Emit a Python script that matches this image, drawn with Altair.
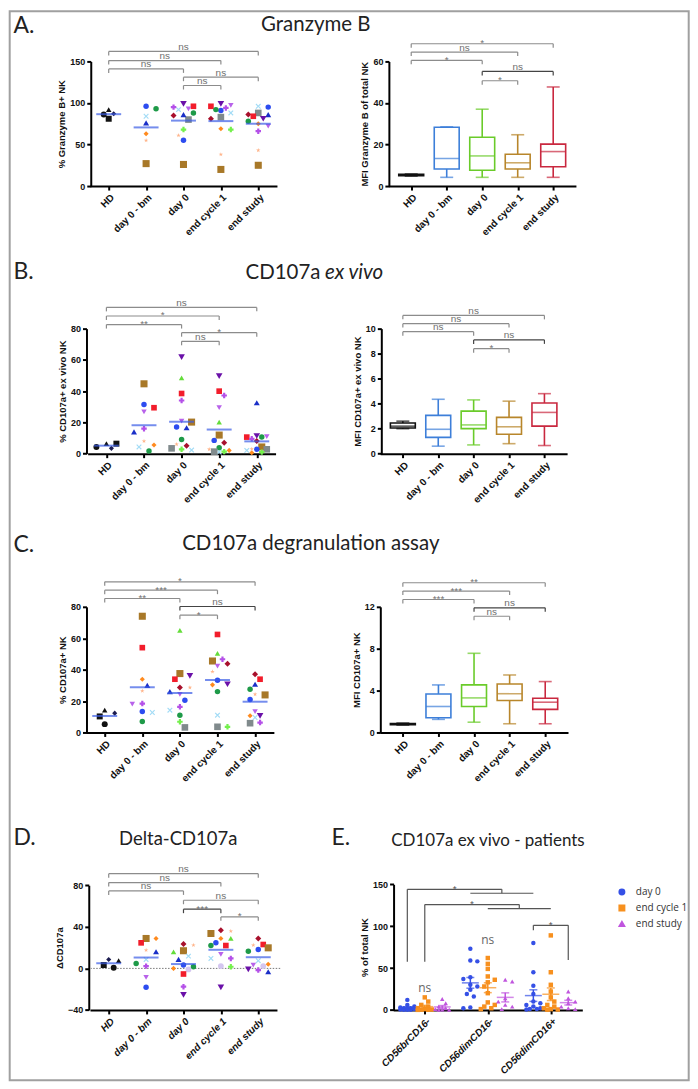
import altair as alt
import pandas as pd

# ---------------------------------------------------------------- categories
CATS = ["HD", "day 0 - bm", "day 0", "end cycle 1", "end study"]
BOX_COLORS = ["#111111", "#3d7fd9", "#6acb2a", "#b8862b", "#c9283f"]
MEAN_BLUE = "#3a5de6"

STAR = "M0,-1L0.22,-0.3L0.95,-0.31L0.36,0.12L0.59,0.81L0,0.38L-0.59,0.81L-0.36,0.12L-0.95,-0.31L-0.22,-0.3Z"
XSHAPE = "M-1,-0.7L-0.7,-1L0,-0.3L0.7,-1L1,-0.7L0.3,0L1,0.7L0.7,1L0,0.3L-0.7,1L-1,0.7L-0.3,0Z"

DONORS = ["H1", "H2", "H3", "H4", "P1", "P2", "P3", "P4", "P5", "P6",
          "P7", "P8", "P9", "P10", "P11", "P12", "P13", "P14", "P15", "P16"]
DONOR_COLORS = ["#111111", "#111111", "#111111", "#1c1c50", "#2c4cf0", "#1a2fc8",
                "#f21d2b", "#a87828", "#808a8c", "#1e9a48", "#64dd3a", "#74f04c",
                "#6a10a8", "#b450e8", "#b862ea", "#ff8a1e", "#ffb48a", "#a3dcf6",
                "#a8102c", "#d4c6f0"]
DONOR_SHAPES = ["triangle-up", "square", "circle", "diamond", "circle", "triangle-up",
                "square", "square", "square", "circle", "triangle-up", "cross",
                "triangle-down", "cross", "triangle-down", "diamond", STAR, XSHAPE,
                "diamond", "circle"]
DONOR_SIZES = [30, 36, 36, 26, 30, 36, 32, 50, 44, 30, 30, 30, 44, 30, 30, 26, 22, 30, 36, 34]

# ---------------------------------------------------------------- panel A
GZB_PCT = {
    "HD": {"H1": 92, "H2": 81, "H3": 86, "H4": 87},
    "day 0 - bm": {"P1": 96, "P6": 93, "P2": 76, "P14": 84, "P12": 63, "P13": 55, "P4": 27},
    "day 0": {"P3": 96, "P9": 99, "P11": 93, "P14": 92, "P6": 88, "P15": 85, "P5": 80,
              "P8": 68, "P13": 61, "P1": 55, "P4": 26, "P10": 95, "P2": 86},
    "end cycle 1": {"P9": 99, "P3": 96, "P10": 94, "P1": 91, "P6": 92, "P11": 97, "P14": 88,
                    "P5": 83, "P15": 81, "P8": 68, "P12": 69, "P13": 38, "P4": 20},
    "end study": {"P5": 88, "P14": 96, "P1": 95, "P15": 86, "P2": 86, "P3": 84, "P9": 81,
                  "P6": 78, "P12": 75, "P10": 66, "P11": 72, "P13": 43, "P4": 25},
}
GZB_PCT_BR = [(0, 4, 162, "ns"), (0, 3, 151, "ns"), (0, 2, 141, "ns"), (2, 4, 131, "ns"), (2, 3, 121, "ns")]

GZB_MFI_MIN = [4.8, 4.2, 4.2, 4.2, 4.2]
GZB_MFI_Q1 = [5.0, 8.2, 7.6, 8.2, 9.3]
GZB_MFI_MED = [5.3, 13.3, 14.5, 11.2, 16.6]
GZB_MFI_Q3 = [5.6, 28.3, 23.5, 15.3, 20.2]
GZB_MFI_MAX = [5.8, 28.5, 37.0, 24.7, 47.7]
GZB_MFI_BR = [(0, 4, 68.5, "*"), (0, 3, 64.5, "ns"), (0, 2, 60.5, "*"), (2, 4, 55.2, "ns"), (2, 3, 50.7, "*")]

# ---------------------------------------------------------------- panel B
EXV_PCT = {
    "HD": {"H1": 6.4, "H2": 6.4, "H3": 4.3, "H4": 3.4},
    "day 0 - bm": {"P4": 44.7, "P3": 29.4, "P1": 31.5, "P11": 26.8, "P10": 16, "P2": 14,
                   "P12": 5.5, "P13": 8, "P14": 4.3, "P6": 1.7},
    "day 0": {"P9": 61.7, "P7": 48.5, "P3": 38.5, "P10": 34, "P4": 20.2, "P11": 20.8, "P1": 17,
              "P2": 16.6, "P6": 9.1, "P15": 5.1, "P5": 3.4, "P13": 6, "P8": 2.8, "P14": 2.3},
    "end cycle 1": {"P9": 49.6, "P3": 40, "P10": 37.2, "P11": 29.4, "P7": 20.2, "P4": 11.9,
                    "P1": 8.5, "P15": 7, "P6": 3.8, "P12": 2.1, "P14": 1, "P13": 2.8, "P5": 1.3, "P8": 1.3},
    "end study": {"P2": 32.6, "P11": 10.9, "P3": 10.6, "P6": 10.6, "P10": 9.5, "P15": 8.1, "P4": 4.3,
                  "P5": 2.8, "P1": 2.8, "P12": 0.6, "P14": 2.1, "P9": 11.3, "P13": 3, "P8": 1},
}
EXV_PCT_BR = [(0, 4, 93.6, "ns"), (0, 3, 88.1, "*"), (0, 2, 82.6, "**"), (2, 4, 77.4, "*"), (2, 3, 71.9, "ns")]

EXV_MFI_MIN = [2.0, 0.6, 0.7, 0.8, 0.65]
EXV_MFI_Q1 = [2.05, 1.3, 2.0, 1.55, 2.2]
EXV_MFI_MED = [2.2, 1.95, 2.3, 2.15, 3.3]
EXV_MFI_Q3 = [2.45, 3.06, 3.4, 2.9, 4.05]
EXV_MFI_MAX = [2.6, 4.35, 4.3, 4.2, 4.8]
EXV_MFI_BR = [(0, 4, 11.06, "ns"), (0, 3, 10.4, "ns"), (0, 2, 9.76, "ns"), (2, 4, 9.1, "ns"), (2, 3, 8.4, "*")]

# ---------------------------------------------------------------- panel C
DEG_PCT = {
    "HD": {"H4": 12.3, "H2": 10.2, "H3": 5.3, "H1": 14.2},
    "day 0 - bm": {"P4": 74, "P3": 54, "P12": 33.9, "P2": 30, "P13": 26.5, "P10": 18.4,
                   "P11": 18, "P1": 13.3, "P14": 12.7, "P6": 7},
    "day 0": {"P7": 65, "P4": 37.5, "P3": 33.9, "P9": 36, "P15": 28.6, "P13": 28.6, "P2": 26,
              "P11": 24.3, "P1": 20.5, "P10": 16.3, "P14": 14.2, "P6": 11, "P8": 6.8, "P5": 3.2},
    "end cycle 1": {"P3": 62.4, "P7": 50.4, "P4": 45.5, "P10": 46.6, "P15": 43.8, "P11": 42.3,
                    "P13": 38.7, "P1": 33.2, "P9": 30.7, "P12": 30.3, "P6": 26, "P14": 11,
                    "P5": 3.6, "P8": 3.6},
    "end study": {"P15": 37, "P3": 33.9, "P2": 30.7, "P6": 27.5, "P13": 24.3, "P4": 23.9, "P1": 21,
                  "P11": 13.3, "P9": 10.6, "P12": 10.6, "P14": 9.5, "P10": 6.3, "P5": 5.9},
}
DEG_PCT_BR = [(0, 4, 95.9, "*"), (0, 3, 90.6, "***"), (0, 2, 85.3, "**"), (2, 4, 80.2, "ns"), (2, 3, 74.7, "*")]

DEG_MFI_MIN = [0.7, 1.25, 0.98, 0.83, 0.83]
DEG_MFI_Q1 = [0.75, 1.4, 2.48, 3.05, 2.2]
DEG_MFI_MED = [0.8, 2.48, 3.3, 3.7, 2.89]
DEG_MFI_Q3 = [0.85, 3.68, 4.54, 4.63, 3.27]
DEG_MFI_MAX = [0.9, 4.54, 7.56, 5.49, 4.86]
DEG_MFI_BR = [(0, 4, 14.3, "**"), (0, 3, 13.5, "***"), (0, 2, 12.7, "***"), (2, 4, 11.9, "ns"), (2, 3, 11.1, "ns")]

# ---------------------------------------------------------------- panel D
DELTA = {
    "HD": {"H1": 7.4, "H4": 8.6, "H3": 0.6, "H2": 3.2},
    "day 0 - bm": {"P4": 28.8, "P12": 28.8, "P3": 24.6, "P13": 17.6, "P2": 16, "P14": 8.6,
                   "P6": 4.8, "P10": 2.2, "P11": -8.6, "P1": -18.2},
    "day 0": {"P15": 23.4, "P13": 22.4, "P4": 17, "P7": 16, "P14": 11.8, "P2": 8.6, "P1": 3.2,
              "P6": 1.6, "P12": 0, "P16": -1, "P3": -5.4, "P10": -17.6, "P9": -25.6},
    "end cycle 1": {"P13": 35.8, "P15": 36.8, "P4": 33.6, "P12": 28.8, "P7": 28.8, "P1": 24.6,
                    "P3": 22, "P6": 22, "P11": 13.4, "P10": 9.6, "P14": 9.6, "P16": 2.2,
                    "P8": 1.6, "P9": -18.2},
    "end study": {"P15": 28.8, "P13": 22.4, "P3": 23, "P4": 19.8, "P6": 16.6, "P1": 18.2,
                  "P14": 7.4, "P16": 2.2, "P11": 3.2, "P9": -1, "P10": -1.6, "P2": -3.2, "P12": 4},
}
DELTA_BR = [(0, 4, 91.2, "ns"), (0, 3, 82.6, "ns"), (0, 2, 74.6, "ns"), (2, 4, 65.6, "ns"),
            (2, 3, 57.0, "***"), (3, 4, 49.6, "*")]

# ---------------------------------------------------------------- panel E
E_GROUPS = ["CD56brCD16-", "CD56dimCD16-", "CD56dimCD16+"]
E_SERIES = ["day 0", "end cycle 1", "end study"]
E_COLORS = ["#3550e6", "#f7901e", "#c055de"]
E_SHAPES = ["circle", "square", "triangle-up"]
E_DAY0 = [[12, 6, 4, 3, 2, 2, 1, 1, 0.5, 0.3, 0.2, 0.1],
          [73, 59, 58, 39, 37, 30, 28, 24, 19, 16, 3, 2],
          [80, 45, 29, 19, 10, 8, 6, 4, 2, 1, 1, 0.5]]
E_EC1 = [[15, 10, 6, 4, 2, 1, 0.5, 0.3, 0.2, 0.1],
         [62, 55, 49, 40, 36, 33, 28, 20, 9, 6, 4, 2, 1],
         [89, 45, 30, 22, 15, 10, 6, 4, 2, 1, 0.5, 0.3]]
E_ES = [[13, 8, 4, 2, 1, 0.5, 0.2, 0.1],
        [36, 34, 14, 10, 6, 4, 1],
        [22, 14, 10, 8, 4, 2, 1]]
E_SERIES_SHIFT = 0.277  # series spacing inside a group, in group units

# ---------------------------------------------------------------- styles
GRAY = "#8c8c8c"
DARK = "#444444"
TFONT = "Lato"
AFONT = "Liberation Sans"
LABEL_EXPR = "[" + ",".join("'%s'" % c for c in CATS) + "][datum.value]"
E_LABEL_EXPR = "[" + ",".join("'%s'" % c for c in E_GROUPS) + "][datum.value]"
W = 190
STEP = 37.6


def swarm(vals, ppu, d=6.5, step=5.0, maxk=2):
    order = sorted(range(len(vals)), key=lambda i: -vals[i])
    placed, out, flip = [], [0.0] * len(vals), 1
    for i in order:
        y = vals[i] * ppu
        cands = [0.0]
        for k in range(1, maxk + 1):
            cands += [flip * k * step, -flip * k * step]
        best, bestd = 0.0, -1
        for c in cands:
            md = min([((c - px) ** 2 + (y - py) ** 2) for px, py in placed] or [1e9])
            if md >= d * d:
                best = c
                break
            if md > bestd:
                best, bestd = c, md
        placed.append((best, y))
        out[i] = best
        if best != 0:
            flip = -flip
    return out


def scales(xr, yr, ydom, xdom=(-0.5, 4.5)):
    xs = alt.Scale(domain=list(xdom), range=xr, nice=False, zero=False)
    ys = alt.Scale(domain=ydom, range=yr, nice=False, zero=False)
    return xs, ys


def bracket_layers(brs, dark, t, X, Y):
    segs, labs = [], []
    for k, (a, b, y, lab) in enumerate(brs):
        col = DARK if k in dark else GRAY
        segs += [dict(xa=a, xb=b, ya=y, yb=y, col=col),
                 dict(xa=a, xb=a, ya=y, yb=y - t, col=col),
                 dict(xa=b, xb=b, ya=y, yb=y - t, col=col)]
        labs.append(dict(xm=(a + b) / 2, y=y, lab=lab, star=(lab != "ns")))
    sdf, ldf = pd.DataFrame(segs), pd.DataFrame(labs)
    rules = alt.Chart(sdf).mark_rule(strokeWidth=1.2).encode(
        x=X("xa:Q"), x2="xb:Q", y=Y("ya:Q"), y2="yb:Q",
        stroke=alt.Stroke("col:N", scale=None))
    ns = alt.Chart(ldf[~ldf.star]).mark_text(font=AFONT, fontSize=10, color="#707070",
                                             baseline="alphabetic", dy=-1.5).encode(
        x=X("xm:Q"), y=Y("y:Q"), text="lab:N")
    st = alt.Chart(ldf[ldf.star]).mark_text(font=AFONT, fontSize=10, color="#707070",
                                            baseline="alphabetic", dy=2.5).encode(
        x=X("xm:Q"), y=Y("y:Q"), text="lab:N")
    return [rules, ns, st]


def texts(items):
    out = []
    for s, x, y, size, align, style in items:
        out.append(alt.Chart(pd.DataFrame({"t": [s]})).mark_text(
            font=TFONT, fontSize=size, align=align, baseline="alphabetic",
            fontStyle=style, color="#222222").encode(
            x=alt.value(x), y=alt.value(y), text="t:N"))
    return out


def make_axes(ytitle, yticks, yoff, italic):
    xax = alt.Axis(values=[0, 1, 2, 3, 4], labelExpr=LABEL_EXPR, title=None, labelAngle=-45,
                   labelOverlap=False, labelFlush=False, labelFontSize=10,
                   labelFontStyle="italic" if italic else "normal")
    yax = alt.Axis(values=yticks, title=ytitle, offset=yoff)
    return xax, yax


def scatter_panel(vals, brs, dark, ytitle, ydom, yticks, ppu, xr, yr, H, yoff,
                  italic=False, zero=False, extra=()):
    rows = []
    for ci, cat in enumerate(CATS):
        d = vals[cat]
        names, vs = list(d.keys()), list(d.values())
        offs = swarm(vs, ppu)
        for n, v, o in zip(names, vs, offs):
            rows.append(dict(idx=ci, pos=ci + o / STEP, donor=n, value=v,
                             sz=DONOR_SIZES[DONORS.index(n)]))
    df = pd.DataFrame(rows)
    xs, ys = scales(xr, yr, ydom)
    xax, yax = make_axes(ytitle, yticks, yoff, italic)

    def X(f):
        return alt.X(f, scale=xs, axis=xax)

    def Y(f):
        return alt.Y(f, scale=ys, axis=yax)

    layers = list(extra)
    if zero:
        layers.append(alt.Chart(pd.DataFrame({"z": [0]})).mark_rule(
            strokeDash=[1.5, 1.5], color="#777777", strokeWidth=1).encode(y=Y("z:Q")))
    layers += bracket_layers(brs, dark, 4.0 / ppu, X, Y)
    pts = alt.Chart(df).mark_point(filled=True, opacity=1).encode(
        x=X("pos:Q"), y=Y("value:Q"),
        color=alt.Color("donor:N", scale=alt.Scale(domain=DONORS, range=DONOR_COLORS), legend=None),
        shape=alt.Shape("donor:N", scale=alt.Scale(domain=DONORS, range=DONOR_SHAPES), legend=None),
        size=alt.Size("sz:Q", scale=None, legend=None))
    mean = alt.Chart(df).transform_aggregate(m="mean(value)", groupby=["idx"]).mark_tick(
        orient="horizontal", size=25, thickness=2, color=MEAN_BLUE).encode(x=X("idx:Q"), y=Y("m:Q"))
    layers += [pts, mean]
    return alt.layer(*layers).properties(width=W, height=H)


def box_panel(mins, q1, med, q3, mx, brs, dark, ytitle, ydom, yticks, ppu, xr, yr, H, yoff):
    df = pd.DataFrame({"idx": list(range(5)), "cat": CATS, "lo": mins, "q1": q1,
                       "med": med, "q3": q3, "hi": mx})
    xs, ys = scales(xr, yr, ydom)
    xax, yax = make_axes(ytitle, yticks, yoff, False)

    def X(f):
        return alt.X(f, scale=xs, axis=xax)

    def Y(f):
        return alt.Y(f, scale=ys, axis=yax)

    stroke = alt.Stroke("cat:N", scale=alt.Scale(domain=CATS, range=BOX_COLORS), legend=None)
    fill = alt.Fill("cat:N", scale=alt.Scale(domain=CATS, range=BOX_COLORS), legend=None)
    base = alt.Chart(df)
    layers = bracket_layers(brs, dark, 4.0 / ppu, X, Y)
    layers += [
        base.mark_rule(strokeWidth=1.6).encode(x=X("idx:Q"), y=Y("lo:Q"), y2="hi:Q", stroke=stroke),
        base.mark_bar(size=25, fill="white", strokeWidth=1.6).encode(
            x=X("idx:Q"), y=Y("q1:Q"), y2="q3:Q", stroke=stroke),
        base.mark_tick(orient="horizontal", size=25, thickness=1.6).encode(x=X("idx:Q"), y=Y("med:Q"), fill=fill),
        base.mark_tick(orient="horizontal", size=13, thickness=1.6).encode(x=X("idx:Q"), y=Y("lo:Q"), fill=fill),
        base.mark_tick(orient="horizontal", size=13, thickness=1.6).encode(x=X("idx:Q"), y=Y("hi:Q"), fill=fill),
    ]
    return alt.layer(*layers).properties(width=W, height=H)


def e_panel(xr, yr, H, extra=()):
    def epos(g, s):
        return g + (s - 1) * E_SERIES_SHIFT

    rows = []
    for si, series in enumerate([E_DAY0, E_EC1, E_ES]):
        for gi, vs in enumerate(series):
            offs = swarm(vs, 126 / 150, d=5.0, step=3.5, maxk=2)
            for v, o in zip(vs, offs):
                rows.append(dict(gi=gi, si=si, series=E_SERIES[si], center=epos(gi, si),
                                 pos=epos(gi, si) + o / 63.2, value=v))
    df = pd.DataFrame(rows)
    xs, ys = scales(xr, yr, [0, 150], xdom=(-0.5, 2.5))
    xax = alt.Axis(values=[0, 1, 2], labelExpr=E_LABEL_EXPR, title=None, labelAngle=-45,
                   labelOverlap=False, labelFlush=False, labelFontSize=10, labelFontStyle="italic")
    yax = alt.Axis(values=[0, 50, 100, 150], title="% of total NK")

    def X(f):
        return alt.X(f, scale=xs, axis=xax)

    def Y(f):
        return alt.Y(f, scale=ys, axis=yax)

    leg = alt.Legend(orient="none", legendX=224, legendY=12, title=None, labelFont="Open Sans",
                     labelFontSize=10, labelColor="#333333", symbolSize=30, rowPadding=4,
                     labelOffset=9, padding=0)
    pts = alt.Chart(df).mark_point(filled=True, opacity=1, size=20).encode(
        x=X("pos:Q"), y=Y("value:Q"),
        color=alt.Color("series:N", scale=alt.Scale(domain=E_SERIES, range=E_COLORS), legend=leg),
        shape=alt.Shape("series:N", scale=alt.Scale(domain=E_SERIES, range=E_SHAPES), legend=leg))
    agg = alt.Chart(df).transform_aggregate(
        m="mean(value)", se="stderr(value)", groupby=["series", "center"]).transform_calculate(
        lo="datum.m - datum.se", hi="datum.m + datum.se")
    st = alt.Stroke("series:N", scale=alt.Scale(domain=E_SERIES, range=E_COLORS), legend=None)
    fl = alt.Fill("series:N", scale=alt.Scale(domain=E_SERIES, range=E_COLORS), legend=None)
    err = [
        agg.mark_rule(strokeWidth=1.5).encode(x=X("center:Q"), y=Y("lo:Q"), y2="hi:Q", stroke=st),
        agg.mark_tick(orient="horizontal", size=8, thickness=1.5).encode(x=X("center:Q"), y=Y("lo:Q"), fill=fl),
        agg.mark_tick(orient="horizontal", size=8, thickness=1.5).encode(x=X("center:Q"), y=Y("hi:Q"), fill=fl),
        agg.mark_tick(orient="horizontal", size=17, thickness=1.5).encode(x=X("center:Q"), y=Y("m:Q"), fill=fl),
    ]
    # significance brackets
    m1 = (epos(1, 0) + epos(2, 0)) / 2
    m2 = (epos(1, 1) + epos(2, 1)) / 2
    segs = [
        (epos(0, 0), 57.5, epos(0, 0), 144), (epos(0, 0), 144, m1, 144), (m1, 144, m1, 139.3),
        (epos(1, 0), 139.3, epos(2, 0), 139.3),
        (epos(0, 1), 57.5, epos(0, 1), 125.8), (epos(0, 1), 125.8, m2, 125.8), (m2, 125.8, m2, 121),
        (epos(1, 1), 121, epos(2, 1), 121),
        (epos(2, 0), 95, epos(2, 0), 101), (epos(2, 0), 101, epos(2, 2), 101), (epos(2, 2), 101, epos(2, 2), 59.5),
    ]
    sdf = pd.DataFrame(segs, columns=["xa", "ya", "xb", "yb"])
    rules = alt.Chart(sdf).mark_rule(strokeWidth=1.2, color="#555555").encode(
        x=X("xa:Q"), x2="xb:Q", y=Y("ya:Q"), y2="yb:Q")
    stars = pd.DataFrame({"x": [(epos(0, 0) + m1) / 2, (epos(0, 1) + m2) / 2, (epos(2, 0) + epos(2, 2)) / 2],
                          "y": [144, 125.8, 101], "t": ["*", "*", "*"]})
    nss = pd.DataFrame({"x": [epos(0, 1), epos(1, 1)], "y": [25.8, 84], "t": ["ns", "ns"]})
    st_l = alt.Chart(stars).mark_text(font=AFONT, fontSize=10, color="#555555", baseline="alphabetic",
                                      dy=2.5).encode(x=X("x:Q"), y=Y("y:Q"), text="t:N")
    ns_l = alt.Chart(nss).mark_text(font="Open Sans", fontSize=12, color="#666666", baseline="middle").encode(
        x=X("x:Q"), y=Y("y:Q"), text="t:N")
    layers = list(extra) + [rules, st_l, ns_l, pts] + err
    return alt.layer(*layers).properties(width=W, height=H)


# ---------------------------------------------------------------- build
frame = alt.Chart(pd.DataFrame({"f": [0]})).mark_rect(
    filled=False, stroke="#a0a0a0", strokeWidth=2).encode(
    x=alt.value(-81.3), x2=alt.value(599.7), y=alt.value(-50.3), y2=alt.value(1021.7))

a_left = scatter_panel(
    GZB_PCT, GZB_PCT_BR, [], "% Granzyme B+ NK", [0, 150], [0, 50, 100, 150], 125 / 150,
    [-0.75, 186.75], [125, 0], 125, 0,
    extra=[frame] + texts([("A.", -77.6, -28.3, 23, "left", "normal"),
                           ("Granzyme B", 225.7, -30.3, 20.5, "center", "normal")]))
a_right = box_panel(GZB_MFI_MIN, GZB_MFI_Q1, GZB_MFI_MED, GZB_MFI_Q3, GZB_MFI_MAX, GZB_MFI_BR, [3],
                    "MFI Granzyme B of total NK", [0, 60], [0, 20, 40, 60], 125 / 60,
                    [-5.1, 182.9], [125, 0], 125, 4.7)

b_left = scatter_panel(
    EXV_PCT, EXV_PCT_BR, [], "% CD107a+ ex vivo NK", [0, 80], [0, 20, 40, 60, 80], 125.4 / 80,
    [-3.15, 185.35], [125.4, 0], 125.4, 4.3,
    extra=texts([("B.", -77.6, -49.3, 23, "left", "normal"),
                 ("CD107a", 230.4, -49.3, 20.5, "right", "normal"),
                 ("ex vivo", 234.9, -49.3, 20.5, "left", "italic")]))
b_right = box_panel(EXV_MFI_MIN, EXV_MFI_Q1, EXV_MFI_MED, EXV_MFI_Q3, EXV_MFI_MAX, EXV_MFI_BR, [3],
                    "MFI CD107a+ ex vivo NK", [0, 10], [0, 2, 4, 6, 8, 10], 125.4 / 10,
                    [-13.45, 174.05], [125.4, 0], 125.4, 12.3)

c_left = scatter_panel(
    DEG_PCT, DEG_PCT_BR, [3], "% CD107a+ NK", [0, 80], [0, 20, 40, 60, 80], 126 / 80,
    [-4.85, 183.65], [136, 10], 136, 4.3,
    extra=texts([("C.", -77.6, -44.7, 23, "left", "normal"),
                 ("CD107a degranulation assay", 220.7, -46.7, 20.5, "center", "normal")]))
c_right = box_panel(DEG_MFI_MIN, DEG_MFI_Q1, DEG_MFI_MED, DEG_MFI_Q3, DEG_MFI_MAX, DEG_MFI_BR, [3],
                    "MFI CD107a+ NK", [0, 12], [0, 4, 8, 12], 126 / 12,
                    [-13.55, 174.95], [136, 10], 136, 13.3)

d_left = scatter_panel(
    DELTA, DELTA_BR, [4], "\u0394CD107a", [-40, 80], [-40, 0, 40, 80], 125 / 120,
    [-0.75, 186.75], [135.3, 10.3], 135.3, 2, italic=True, zero=True,
    extra=texts([("D.", -77.6, -29.7, 23, "left", "normal"),
                 ("Delta-CD107a", 87.7, -29.7, 18.5, "center", "normal")]))
e_right = e_panel([-0.3, 189.3], [135.3, 9.3], 135.3,
                  extra=texts([("E.", -62.3, -29.7, 23, "left", "normal"),
                               ("CD107a ex vivo - patients", 94.7, -28.7, 17, "center", "normal")]))

chart = alt.concat(
    a_left, a_right, b_left, b_right, c_left, c_right, d_left, e_right,
    columns=2, spacing={"row": 143, "column": 113.7}, bounds="flush", align="each",
).resolve_scale(
    x="independent", y="independent", color="independent", shape="independent",
    stroke="independent", fill="independent", size="independent",
).properties(
    padding={"left": 0, "top": 0, "right": 0, "bottom": 0}
).configure(
    padding={"left": 0, "top": 0, "right": 0, "bottom": 0}
).configure_view(stroke=None).configure_axis(
    domainColor="#000000", domainWidth=2, tickColor="#000000", tickWidth=2, tickSize=4,
    labelFont=AFONT, labelFontWeight="bold", labelFontSize=9, labelColor="#111111",
    titleFont=AFONT, titleFontWeight="bold", titleFontSize=9.5, titleColor="#111111",
    grid=False, labelPadding=2, titlePadding=3,
)

chart.save("out.html", embed_options={"renderer": "svg", "actions": False})
